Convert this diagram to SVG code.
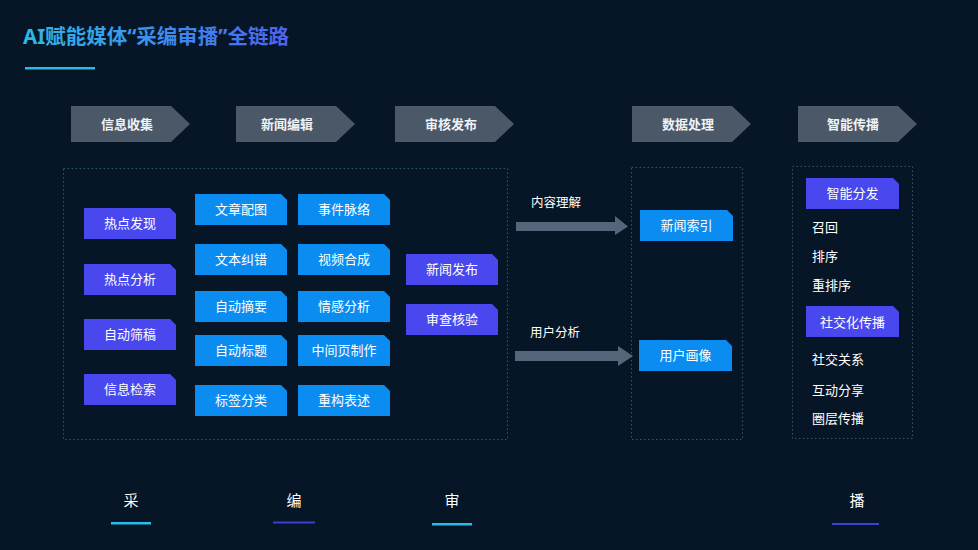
<svg xmlns="http://www.w3.org/2000/svg" width="978" height="550" viewBox="0 0 978 550">
<defs>
<linearGradient id="tg" x1="0" y1="0" x2="1" y2="0">
<stop offset="0" stop-color="#2bbbe8"/>
<stop offset="1" stop-color="#4d63f0"/>
</linearGradient>
<path id="chev" d="M0,0 H100 L119,18 L100,36 H0 Z"/>
<path id="nd" d="M0,0 H86 L92,6 V31 H0 Z"/>
<path id="nd2" d="M0,0 H87 L93,6 V31 H0 Z"/>
</defs>
<style>
text{font-family:"Noto Sans CJK SC","Noto Sans",sans-serif;fill:#ffffff}
.hd use{fill:#4b5868}
.hd text{font-size:13px;font-weight:bold;text-anchor:middle;fill:#f0f3f6}
.n text{font-size:13px;text-anchor:middle}
.p{fill:#4848ee}
.b{fill:#0a8cf0}
.box{fill:none;stroke:#2e5670;stroke-width:1;stroke-dasharray:1.5 2.5}
.lbl{font-size:12.5px}
.item{font-size:13px}
.big{font-size:15px;text-anchor:middle}
.arr{fill:#56657a}
</style>
<rect width="978" height="550" fill="#061626"/>
<g id="title">
<text x="23" y="44" style="font-family:'Noto Sans','Noto Sans CJK SC',sans-serif;font-size:20.5px;font-weight:bold;fill:url(#tg)">AI赋能媒体“采编审播”全链路</text>
<rect x="25" y="67" width="70" height="2.5" fill="#2bbbe8"/>
</g>
<g id="headers" class="hd">
<g id="h1"><use href="#chev" x="71" y="106"/><text x="127" y="129">信息收集</text></g>
<g id="h2"><use href="#chev" x="236" y="106"/><text x="287" y="129">新闻编辑</text></g>
<g id="h3"><use href="#chev" x="395" y="106"/><text x="451" y="129">审核发布</text></g>
<g id="h4"><use href="#chev" x="632" y="106"/><text x="688" y="129">数据处理</text></g>
<g id="h5"><use href="#chev" x="798" y="106"/><text x="853" y="129">智能传播</text></g>
</g>
<g id="boxes">
<rect class="box" x="63.5" y="168.5" width="444" height="271"/>
<rect class="box" x="631.5" y="167.5" width="111" height="272"/>
<rect class="box" x="792.5" y="166.5" width="120" height="272"/>
</g>
<g id="collect">
<g id="n-rdfx" class="n"><use href="#nd" class="p" x="84" y="208"/><text x="130" y="228">热点发现</text></g>
<g id="n-rdfx2" class="n"><use href="#nd" class="p" x="84" y="264"/><text x="130" y="284">热点分析</text></g>
<g id="n-zdsg" class="n"><use href="#nd" class="p" x="84" y="319"/><text x="130" y="339">自动筛稿</text></g>
<g id="n-xxjs" class="n"><use href="#nd" class="p" x="84" y="374"/><text x="130" y="394">信息检索</text></g>
</g>
<g id="edit">
<g id="n-wzpt" class="n"><use href="#nd" class="b" x="195" y="194"/><text x="241" y="214">文章配图</text></g>
<g id="n-wbjc" class="n"><use href="#nd" class="b" x="195" y="244"/><text x="241" y="264">文本纠错</text></g>
<g id="n-zdzy" class="n"><use href="#nd" class="b" x="195" y="291"/><text x="241" y="311">自动摘要</text></g>
<g id="n-zdbt" class="n"><use href="#nd" class="b" x="195" y="335"/><text x="241" y="355">自动标题</text></g>
<g id="n-bqfl" class="n"><use href="#nd" class="b" x="195" y="385"/><text x="241" y="405">标签分类</text></g>
<g id="n-sjml" class="n"><use href="#nd" class="b" x="298" y="194"/><text x="344" y="214">事件脉络</text></g>
<g id="n-sphc" class="n"><use href="#nd" class="b" x="298" y="244"/><text x="344" y="264">视频合成</text></g>
<g id="n-qgfx" class="n"><use href="#nd" class="b" x="298" y="291"/><text x="344" y="311">情感分析</text></g>
<g id="n-zjy" class="n"><use href="#nd" class="b" x="298" y="335"/><text x="344" y="355">中间页制作</text></g>
<g id="n-cgbs" class="n"><use href="#nd" class="b" x="298" y="385"/><text x="344" y="405">重构表述</text></g>
</g>
<g id="publish">
<g id="n-xwfb" class="n"><use href="#nd" class="p" x="406" y="254"/><text x="452" y="274">新闻发布</text></g>
<g id="n-scjy" class="n"><use href="#nd" class="p" x="406" y="304"/><text x="452" y="324">审查核验</text></g>
</g>
<g id="connectors">
<path class="arr" d="M516,222 H615 V216 L628,226.5 L615,235 V231 H516 Z"/>
<text class="lbl" x="531" y="207">内容理解</text>
<path class="arr" d="M515,351 H618 V346 L633,356 L618,366 V361 H515 Z"/>
<text class="lbl" x="530" y="337">用户分析</text>
</g>
<g id="data">
<g id="n-xwsy" class="n"><use href="#nd2" class="b" x="640" y="210"/><text x="686.5" y="230">新闻索引</text></g>
<g id="n-yhhx" class="n"><use href="#nd2" class="b" x="639" y="340"/><text x="685.5" y="360">用户画像</text></g>
</g>
<g id="spread">
<g id="n-znff" class="n"><use href="#nd2" class="p" x="806" y="178"/><text x="852.5" y="198">智能分发</text></g>
<text class="item" x="812" y="232">召回</text>
<text class="item" x="812" y="261">排序</text>
<text class="item" x="812" y="290">重排序</text>
<g id="n-sjhcb" class="n"><use href="#nd2" class="p" x="806" y="306"/><text x="852.5" y="327">社交化传播</text></g>
<text class="item" x="812" y="364">社交关系</text>
<text class="item" x="812" y="395">互动分享</text>
<text class="item" x="812" y="423">圈层传播</text>
</g>
<g id="stages">
<text class="big" x="131" y="506">采</text>
<rect x="111" y="522" width="40" height="2.5" fill="#2bbbe8"/>
<text class="big" x="294" y="506">编</text>
<rect x="273" y="521.5" width="42" height="2" fill="#3a40d8"/>
<text class="big" x="452" y="506">审</text>
<rect x="432" y="523" width="40" height="2.5" fill="#2bbbe8"/>
<text class="big" x="857" y="506">播</text>
<rect x="832" y="523" width="47" height="2" fill="#3a40d8"/>
</g>
</svg>
